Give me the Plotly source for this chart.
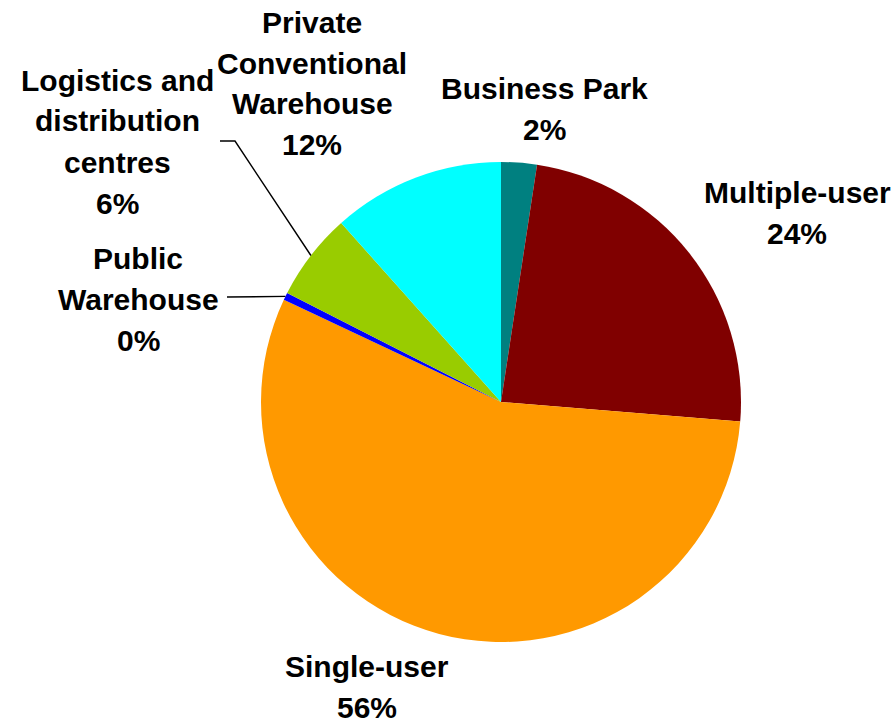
import math
import plotly.graph_objects as go

# Share of floor space by property type (percent)
categories = ["Business Park", "Multiple-user", "Single-user", "Public Warehouse",
              "Logistics and distribution centres", "Private Conventional Warehouse"]
values = [2.4, 23.9, 55.7, 0.5, 5.9, 11.6]
colors = ["#008080", "#800000", "#FF9900", "#0000FF", "#99CC00", "#00FFFF"]

# Multi-line label text for each category
label_lines = [
    ["Business Park"],
    ["Multiple-user"],
    ["Single-user"],
    ["Public", "Warehouse"],
    ["Logistics and", "distribution", "centres"],
    ["Private", "Conventional", "Warehouse"],
]

W, H = 895, 723
CX, CY, R = 501, 402, 240
FONT = dict(family="Liberation Sans, Arial, sans-serif", size=30, color="black", weight="bold")
LINE_H = 41

# label block placement (centre x, y of first line) in pixels
label_pos = [(544, 88), (797, 193), (367, 666), (138, 258), (117, 80), (312, 22)]


def px(x):
    return x / W


def py(y):
    return 1 - y / H


fig = go.Figure(go.Pie(
    labels=categories,
    values=values,
    sort=False,
    direction="clockwise",
    rotation=0,
    marker=dict(colors=colors, line=dict(width=0)),
    textinfo="none",
    hoverinfo="label+percent",
    domain=dict(x=[px(CX - R), px(CX + R)], y=[py(CY + R), py(CY - R)]),
    showlegend=False,
))

total = sum(values)
annotations = []
for lines, (lx, ly), v in zip(label_lines, label_pos, values):
    pct = f"{round(100 * v / total):d}%"
    for i, t in enumerate(lines + [pct]):
        annotations.append(dict(
            x=px(lx), y=py(ly + i * LINE_H), xref="paper", yref="paper",
            text=t, showarrow=False, font=FONT, xanchor="center", yanchor="middle",
        ))


def slice_mid_point(idx):
    start = sum(values[:idx]) / total
    mid = start + values[idx] / total / 2
    ang = 2 * math.pi * mid
    return CX + R * math.sin(ang), CY - R * math.cos(ang)


# leader lines for the two small slices on the left
shapes = []
lx, ly = slice_mid_point(4)
path = f"M {px(220)},{py(141)} L {px(235)},{py(141)} L {px(lx)},{py(ly)}"
shapes.append(dict(type="path", path=path, xref="paper", yref="paper",
                   line=dict(color="black", width=1.4)))
lx, ly = slice_mid_point(3)
shapes.append(dict(type="line", x0=px(227), y0=py(297), x1=px(lx), y1=py(ly),
                   xref="paper", yref="paper", line=dict(color="black", width=1.4)))

fig.update_layout(
    width=W, height=H,
    margin=dict(l=0, r=0, t=0, b=0),
    paper_bgcolor="white",
    plot_bgcolor="white",
    annotations=annotations,
    shapes=shapes,
)

fig.write_html("out.html")
